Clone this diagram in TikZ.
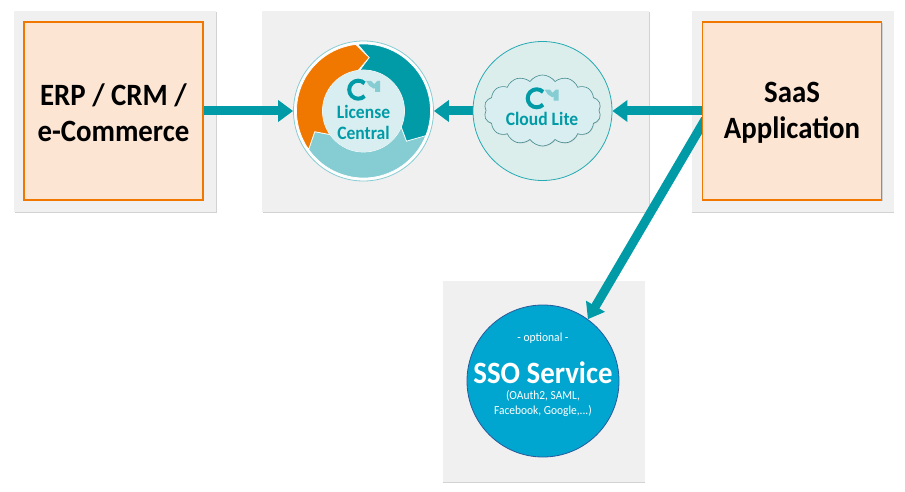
\documentclass[tikz,border=0pt]{standalone}
\usepackage{fontspec}
\setmainfont[FakeStretch=.93]{Carlito}
\usetikzlibrary{arrows.meta,shadows,shapes.symbols}
\definecolor{cmteal}{HTML}{009BA6}
\definecolor{cmlight}{HTML}{86CCD3}
\definecolor{cmorange}{HTML}{F07800}
\definecolor{cmpale}{HTML}{D8EEF0}
\definecolor{cmmist}{HTML}{DCEEEC}
\definecolor{cmpeach}{HTML}{FDE5D3}
\definecolor{cmpanel}{HTML}{F0F0F0}
\definecolor{cmblue}{HTML}{00A6CF}
\definecolor{cmnavy}{HTML}{2A5A9B}
\pgfdeclarelayer{panels}
\pgfdeclarelayer{flows}
\pgfsetlayers{panels,flows,main}
\def\ro{67}
\def\ri{41}
% logo, around the centre of its C
\def\cmlogo{
  \fill[cmlight] (8,8.7) -- (13,8.7) -- (16,5.5) -- (19,8.7) -- (22,8.7) -- (22,-2.3) -- (17,-2.3) -- (17,2) -- (15.5,1) -- (11,4) -- cycle;
  \draw[cmteal,line width=4pt] (45:9) arc (45:315:9);
}
\tikzset{
  panel/.style={minimum width=202pt,minimum height=201pt,fill=cmpanel,inner sep=0pt,drop shadow={shadow xshift=.8pt,shadow yshift=-.8pt,fill=black!35}},
  sysbox/.style={minimum width=179pt,minimum height=178pt,fill=cmpeach,draw=cmorange,line width=1.6pt,inner sep=0pt,drop shadow={shadow xshift=1pt,shadow yshift=-1pt,fill=black!30}},
  systext/.style={align=center,inner sep=0pt,font=\fontsize{31}{36}\selectfont\bfseries},
  flow/.style={-{Triangle[length=15pt,width=21pt]},line width=9pt,cmteal},
  seg/.style={draw=white,line width=.7pt,line join=miter},
  tealtext/.style={text=cmteal,font=\fontsize{18.9}{21}\selectfont\bfseries,align=center,inner sep=0pt},
}
\begin{document}
\begin{tikzpicture}[x=1pt,y=1pt]
  \useasboundingbox (0,0) rectangle (905,491);
  \begin{pgfonlayer}{panels}
    \node[panel] (leftpanel) at (115,379.5) {};
    \node[panel,minimum width=387pt] (midpanel) at (455.5,379.5) {};
    \node[panel] (rightpanel) at (792.5,379.5) {};
    \node[panel] (ssopanel) at (543.5,109.5) {};
  \end{pgfonlayer}
  \node[sysbox] (erp) at (113.5,380) {};
  \node[systext] (erplabel) at (113.5,378) {ERP / CRM /\\e-Commerce};
  \node[sysbox] (saas) at (792,380) {};
  \node[systext] (saaslabel) at (792,378) {SaaS\\Application};
  % license central ring
  \node[circle,minimum size=140pt,inner sep=0pt,fill=white,draw=cmlight,line width=.8pt] (lc) at (363.5,380) {};
  \begin{scope}[shift={(lc.center)}]
    \filldraw[seg,fill=cmlight] (215:\ro) arc (215:339:\ro) -- (-35:52.5) -- (-23:\ri) arc (-23:-145:\ri) -- (203:53) -- cycle;
    \filldraw[seg,fill=cmteal] (95:\ro) arc (95:-21.6:\ro) -- (-35:52.5) -- (-23:\ri) arc (-23:95:\ri) -- (84:53.7) -- cycle;
    \filldraw[seg,fill=cmorange] (96.6:\ro) arc (96.6:215:\ro) -- (203:53) -- (215:\ri) arc (215:97.4:\ri) -- (84:53.7) -- cycle;
    \fill[cmpale] (0,0) circle (\ri);
    \begin{scope}[shift={(-5.3,21.3)}]
      \cmlogo
    \end{scope}
  \end{scope}
  \node[tealtext] (lclabel) at (363.5,368.5) {License\\Central};
  % cloud lite
  \node[circle,minimum size=139pt,inner sep=0pt,fill=cmmist,draw=cmteal!85,line width=.8pt] (cl) at (542.5,380) {};
  \node[cloud,cloud puffs=14,cloud puff arc=110,aspect=1.7,minimum width=117pt,minimum height=71pt,inner sep=0pt,fill=cmpale,draw=cmteal!45!gray,line width=.6pt,drop shadow={shadow xshift=.5pt,shadow yshift=-.7pt,fill=black!30}] (cloudshape) at (542.5,380.5) {};
  \begin{scope}[shift={(536.7,392.7)}]
    \cmlogo
  \end{scope}
  \node[tealtext] (cllabel) at (542,372) {Cloud Lite};
  % sso service
  \node[circle,minimum size=152pt,inner sep=0pt,fill=cmblue,draw=cmnavy,line width=.8pt] (sso) at (543,110) {};
  \node[text=white,font=\fontsize{12.4}{15}\selectfont,inner sep=0pt] (ssoopt) at (543,153) {- optional -};
  \node[text=white,font=\fontsize{31}{34}\selectfont\bfseries,inner sep=0pt] (ssoname) at (543,118) {SSO Service};
  \node[text=white,font=\fontsize{12.3}{15}\selectfont,align=center,inner sep=0pt] (ssonote) at (543,87.5) {(OAuth2, SAML,\\Facebook, Google,...)};
  % connectors
  \begin{pgfonlayer}{flows}
    \draw[flow] (erp.east) -- (lc.west);
    \draw[flow] (cl.west) -- (lc.east);
    \draw[flow] (saas.west) -- (cl.east);
    \draw[flow,shorten <=-7pt] (saas.189) -- (sso.54);
  \end{pgfonlayer}
\end{tikzpicture}
\end{document}
